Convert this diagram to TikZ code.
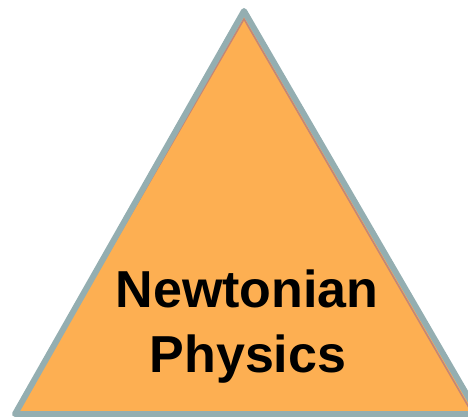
\documentclass[tikz,border=0pt]{standalone}
\usepackage{fontspec}
\setmainfont{Liberation Sans}
\definecolor{pyrfill}{RGB}{253,175,82}
\definecolor{pyrrim}{RGB}{148,174,177}
\definecolor{pyrshade}{RGB}{196,134,118}
\begin{document}
\begin{tikzpicture}[x=1pt,y=-1pt]
		\tikzstyle{every node}=[font=\fontsize{52pt}{65pt}\selectfont\bfseries]
		
		\useasboundingbox (0,0) rectangle (468,417);
		\clip (0,0) rectangle (468,417);
		
		% triangle body
		\fill[pyrfill] (244,11) -- (478,414) -- (15,414) -- cycle;
		\draw[line width=1.6pt, pyrshade] (17,411) -- (244,19) -- (471,411);
		\draw[line width=6pt, pyrrim, line join=round] (244,11) -- (478,414) -- (15,414) -- cycle;
		
		% label
		\node[anchor=base] (newton) at (247,307) {Newtonian};
		\node[anchor=base] (physics) at (248,372) {Physics};
		
	\end{tikzpicture}
\end{document}
